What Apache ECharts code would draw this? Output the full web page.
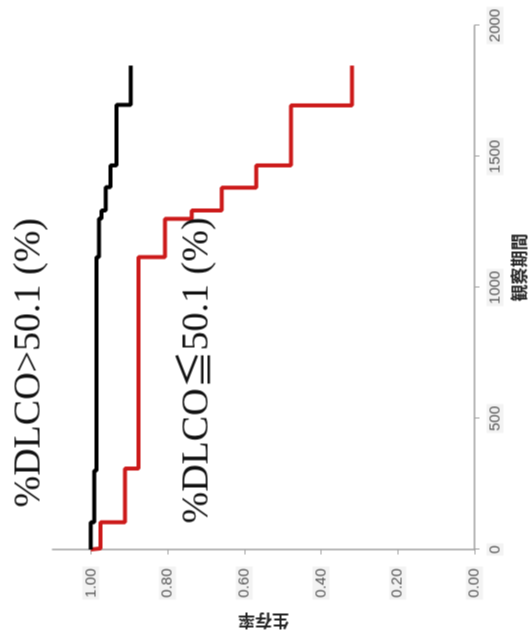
<!DOCTYPE html>
<html>
<head>
<meta charset="utf-8">
<script src="https://cdn.jsdelivr.net/npm/echarts@6/dist/echarts.min.js"></script>
<style>
  html, body { margin: 0; padding: 0; background: #ffffff; overflow: hidden; }
  #wrap { position: absolute; left: 0; top: 0; width: 532px; height: 641px; overflow: hidden; background: #fff; }
  #chart { position: absolute; width: 641px; height: 532px; left: -54.5px; top: 54.5px; transform: rotate(-90deg); transform-origin: 50% 50%; }
</style>
</head>
<body>
<div id="wrap"><div id="chart"></div></div>
<script>
// Observation time (days) at each step and survival after the step
const highTimes = [0, 104, 301, 1116, 1263, 1294, 1383, 1466, 1697, 1847];
const highSurvival = [1.0, 0.991, 0.985, 0.979, 0.972, 0.961, 0.949, 0.933, 0.896, 0.896];
const lowTimes = [0, 4, 104, 309, 1116, 1262, 1294, 1381, 1466, 1695, 1847];
const lowSurvival = [1.0, 0.975, 0.911, 0.876, 0.807, 0.737, 0.659, 0.569, 0.478, 0.319, 0.319];
const survivalTicks = [0, 0.2, 0.4, 0.6, 0.8, 1.0];
const timeTicks = [0, 500, 1000, 1500, 2000];
const highLabel = '%DLCO>50.1 (%)';
const lowLabel = '%DLCO≦50.1 (%)';
const xName = '観察期間';
const yName = '生存率';

const zip = (a, b) => a.map((v, i) => [v, b[i]]);

const chart = echarts.init(document.getElementById('chart'), null, { renderer: 'canvas', width: 641, height: 532 });
const labelFont = { fontFamily: 'Liberation Sans', fontSize: 15, color: '#555', backgroundColor: '#f3f3f3', padding: [1, 2] };
chart.setOption({
  animation: false,
  backgroundColor: '#ffffff',
  grid: { left: 92, right: 25, top: 52, bottom: 58, containLabel: false },
  xAxis: {
    type: 'value', min: 0, max: 2000, interval: 500,
    name: xName, nameLocation: 'middle', nameGap: 36,
    nameTextStyle: { fontFamily: 'Noto Sans CJK JP', fontSize: 17, fontWeight: 'bold', color: '#222', padding: [0, 0, 0, 40] },
    axisLine: { onZero: false, lineStyle: { color: '#a0a0a0', width: 1.5 } },
    axisTick: { show: true, length: 5, lineStyle: { color: '#a0a0a0' }, customValues: timeTicks },
    axisLabel: Object.assign({ margin: 12, customValues: timeTicks, formatter: v => String(v) }, labelFont),
    splitLine: { show: false }
  },
  yAxis: {
    type: 'value', min: 0, max: 1.1, interval: 0.2,
    name: yName, nameLocation: 'middle', nameGap: 63, nameRotate: 90,
    nameTextStyle: { fontFamily: 'Noto Sans CJK JP', fontSize: 17, fontWeight: 'bold', color: '#222' },
    axisLine: { show: true, onZero: false, lineStyle: { color: '#a0a0a0', width: 1.5 } },
    axisTick: { show: true, length: 5, lineStyle: { color: '#a0a0a0' }, customValues: survivalTicks },
    axisLabel: Object.assign({ margin: 17, customValues: survivalTicks, formatter: v => v.toFixed(2) }, labelFont),
    splitLine: { show: false }
  },
  series: [
    {
      name: highLabel, type: 'line', step: 'end', showSymbol: false,
      data: zip(highTimes, highSurvival),
      lineStyle: { color: '#000000', width: 4 }, z: 3
    },
    {
      name: lowLabel, type: 'line', step: 'end', showSymbol: false,
      data: zip(lowTimes, lowSurvival),
      lineStyle: { color: '#cc1a1a', width: 4 }, z: 2
    }
  ],
  graphic: [
    { type: 'text', x: 134, y: 29, z: 10,
      style: { text: highLabel, font: '38px "Liberation Serif", "Noto Sans CJK JP"', fill: '#111', verticalAlign: 'middle', align: 'left' } },
    { type: 'text', x: 118, y: 197, z: 10,
      style: { text: lowLabel, font: '38px "Liberation Serif", "Noto Sans CJK JP"', fill: '#111', verticalAlign: 'middle', align: 'left' } }
  ]
});
</script>
</body>
</html>
